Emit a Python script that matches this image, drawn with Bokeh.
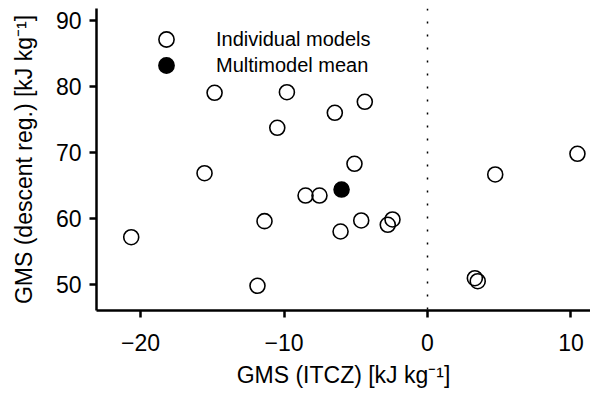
from bokeh.plotting import figure
from bokeh.models import Range1d, FixedTicker, Span, Legend, LegendItem
from bokeh.embed import file_html
from bokeh.resources import INLINE

# ---- data ----
gms_itcz = [-20.65, -11.85, -11.36, -15.54, -14.84, -9.80, -10.47, -6.46, -4.37, -5.09,
            -8.50, -7.53, -6.06, -4.62, -2.77, -2.44, 3.30, 3.50, 4.72, 10.45]
gms_descent = [57.17, 49.80, 59.60, 66.86, 79.05, 79.14, 73.74, 76.02, 77.68, 68.29,
               63.48, 63.48, 58.03, 59.70, 59.05, 59.85, 50.95, 50.50, 66.67, 69.80]
mean_itcz = [-5.99]
mean_descent = [64.39]

x_ticks = [-20, -10, 0, 10]
x_tick_labels = ["\u221220", "\u221210", "0", "10"]
y_ticks = [50, 60, 70, 80, 90]
y_tick_labels = ["50", "60", "70", "80", "90"]
legend_labels = ["Individual models", "Multimodel mean"]

FONT = "Liberation Sans"

p = figure(width=590, height=397, output_backend="svg", toolbar_location=None,
           x_range=Range1d(-23.07, 11.36), y_range=Range1d(46.06, 91.82),
           min_border_left=96, min_border_bottom=87, min_border_top=8, min_border_right=0)
p.outline_line_color = None
p.xgrid.visible = False
p.ygrid.visible = False
p.background_fill_color = "white"
p.border_fill_color = "white"

for ax in (p.xaxis[0], p.yaxis[0]):
    ax.axis_line_width = 2.5
    ax.axis_line_color = "black"
    ax.major_tick_line_width = 2.5
    ax.major_tick_line_color = "black"
    ax.major_tick_out = 7
    ax.major_tick_in = 0
    ax.minor_tick_line_color = None
    ax.major_label_text_font = FONT
    ax.major_label_text_font_size = "23px"
    ax.major_label_text_color = "black"
    ax.axis_label_text_font = FONT
    ax.axis_label_text_font_size = "23px"
    ax.axis_label_text_font_style = "normal"
    ax.axis_label_text_color = "black"

p.xaxis.ticker = FixedTicker(ticks=x_ticks)
p.xaxis.major_label_overrides = dict(zip(x_ticks, x_tick_labels))
p.yaxis.ticker = FixedTicker(ticks=y_ticks)
p.yaxis.major_label_overrides = dict(zip(y_ticks, y_tick_labels))
p.xaxis.major_label_standoff = 16
p.yaxis.major_label_standoff = 8
p.xaxis.axis_label_standoff = 8
p.yaxis.axis_label_standoff = 16
p.xaxis.axis_label = "GMS (ITCZ) [kJ kg\u207b\u00b9]"
p.yaxis.axis_label = "GMS (descent reg.) [kJ kg\u207b\u00b9]"

p.add_layout(Span(location=0, dimension="height", line_color="black",
                  line_width=1.5, line_dash="2 11"))

r_ind = p.scatter(gms_itcz, gms_descent, size=15, marker="circle",
                  fill_color=None, line_color="black", line_width=1.6)
r_mean = p.scatter(mean_itcz, mean_descent, size=15, marker="circle",
                   fill_color="black", line_color="black", line_width=1.6)

for label, rend, yoff in ((legend_labels[0], r_ind, 252), (legend_labels[1], r_mean, 226)):
    lg = Legend(items=[LegendItem(label=label, renderers=[rend])],
                location=(51, yoff), orientation="vertical",
                label_text_font=FONT, label_text_font_size="20px",
                label_text_color="black", label_standoff=31,
                glyph_width=38, glyph_height=38, label_height=38,
                spacing=0, padding=0, margin=0,
                border_line_color=None, background_fill_alpha=0)
    p.add_layout(lg, "center")

open("out.html", "w").write(file_html(p, INLINE))
